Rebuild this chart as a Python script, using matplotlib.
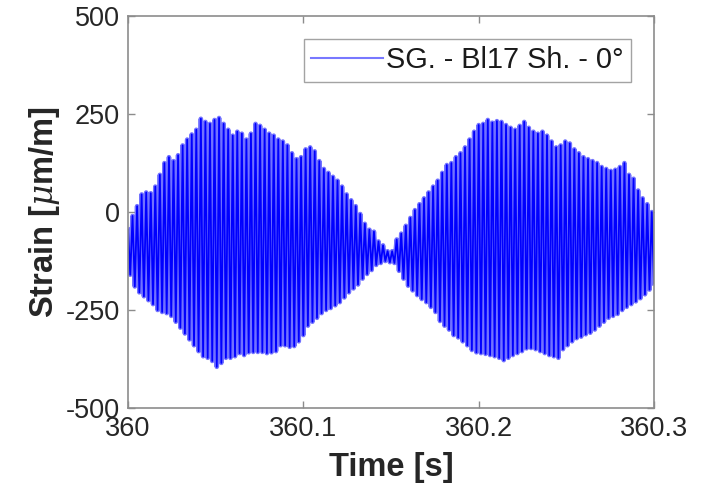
import numpy as np
import matplotlib
matplotlib.use("Agg")
import matplotlib.pyplot as plt

plt.rcParams['font.family'] = ['Liberation Sans', 'DejaVu Sans']
plt.rcParams['mathtext.fontset'] = 'custom'
plt.rcParams['mathtext.it'] = 'DejaVu Serif:italic'
plt.rcParams['axes.unicode_minus'] = False

# peak values of each cycle [micro-strain]
upper_peaks = [
    -45, -10, 15, 45, 50, 48, 65, 95, 125, 140,
    130, 145, 170, 185, 198, 210, 238, 230, 225, 235,
    240, 225, 210, 195, 205, 200, 185, 200, 225, 220,
    210, 200, 195, 185, 180, 170, 150, 135, 140, 160,
    165, 155, 130, 110, 100, 90, 80, 65, 45, 30,
    15, -5, -30, -45, -50, -75, -85, -100, -100, -70,
    -55, -35, -15, 5, 20, 35, 50, 65, 80, 100,
    120, 125, 140, 150, 165, 185, 205, 222, 225, 235,
    228, 232, 230, 222, 215, 210, 220, 230, 215, 205,
    200, 205, 195, 180, 165, 170, 180, 175, 160, 150,
    140, 135, 130, 125, 115, 110, 105, 108, 115, 125,
    95, 85, 55, 35, 20, 0,
]
lower_peaks = [
    -160, -190, -205, -215, -225, -235, -250, -255, -258, -265,
    -280, -295, -310, -325, -340, -355, -368, -372, -380, -395,
    -385, -372, -372, -368, -360, -365, -358, -357, -357, -357,
    -360, -358, -355, -340, -340, -344, -342, -330, -314, -290,
    -280, -270, -258, -250, -245, -238, -230, -218, -205, -195,
    -185, -170, -158, -148, -135, -130, -125, -128, -130, -150,
    -170, -188, -200, -212, -222, -230, -242, -255, -278, -290,
    -300, -314, -320, -330, -340, -352, -358, -360, -362, -365,
    -368, -372, -378, -372, -365, -360, -355, -348, -347, -350,
    -355, -360, -365, -368, -372, -350, -340, -330, -322, -318,
    -312, -308, -300, -290, -280, -270, -265, -260, -250, -242,
    -235, -228, -220, -210, -198, -182,
]
t_start, t_end = 360.0, 360.3
label = 'SG. - Bl17 Sh. - 0°'

strain = np.column_stack([upper_peaks, lower_peaks]).ravel()
time = np.linspace(t_start, t_end, strain.size)

fig = plt.figure(figsize=(7.09, 4.93), dpi=100)
ax = fig.add_axes([0.1805, 0.1724, 0.742, 0.795])

# light halo under the dense trace, then the trace itself
ax.plot(time, strain, color='#7272ff', linewidth=3.3)
ax.plot(time, strain, color='blue', linewidth=1.3, label=label)

ax.set_xlim(t_start, t_end)
ax.set_ylim(-500, 500)
ax.set_xticks([360, 360.1, 360.2, 360.3])
ax.set_xticklabels(['360', '360.1', '360.2', '360.3'])
ax.set_yticks([-500, -250, 0, 250, 500])

gray = '#8c8c8c'
for s in ax.spines.values():
    s.set_color(gray)
    s.set_linewidth(1.2)
ax.tick_params(direction='in', length=5, width=1, color=gray,
               top=True, right=True, labelsize=19.5, labelcolor='#262626', pad=6)

ax.set_xlabel('Time [s]', fontsize=23.5, fontweight='bold', color='#262626', labelpad=7)
ax.set_ylabel(r'Strain [$\mu$m/m]', fontsize=23.5, fontweight='bold', color='#262626', labelpad=2.5)

leg = ax.legend(loc='upper right', fontsize=20.8, frameon=True, fancybox=False,
                borderaxespad=0.8, handlelength=2.5, handletextpad=0.1,
                borderpad=0.25, labelcolor='#1a1a1a')
leg.get_frame().set_edgecolor(gray)
leg.get_frame().set_linewidth(1.0)
for h in leg.get_lines():
    h.set_color('#7878ff')
    h.set_linewidth(1.5)

fig.savefig('out.png', dpi=100)
